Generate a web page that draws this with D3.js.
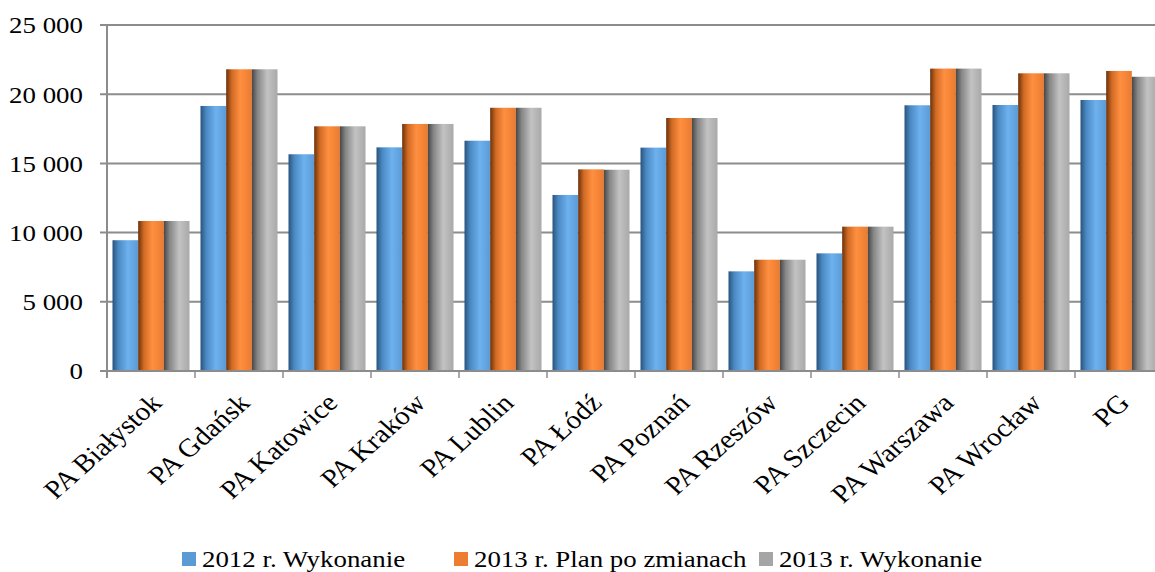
<!DOCTYPE html>
<html><head><meta charset="utf-8">
<script src="https://cdn.jsdelivr.net/npm/d3@7/dist/d3.min.js"></script>
<style>body{margin:0;background:#fff;overflow:hidden}svg{display:block}</style>
</head><body><svg id="c" width="1155" height="572"></svg>
<script>
const categories=["PA Białystok","PA Gdańsk","PA Katowice","PA Kraków","PA Lublin","PA Łódź","PA Poznań","PA Rzeszów","PA Szczecin","PA Warszawa","PA Wrocław","PG"];
const seriesNames=["2012 r. Wykonanie","2013 r. Plan po zmianach","2013 r. Wykonanie"];
const s2012=[9450,19150,15660,16160,16640,12720,16140,7200,8500,19200,19220,19580];
const s2013plan=[10840,21800,17680,17850,19020,14570,18280,8040,10430,21850,21510,21680];
const s2013wyk=[10840,21800,17680,17850,19020,14540,18280,8040,10430,21850,21510,21260];
const yTicks=[0,5000,10000,15000,20000,25000];
const series=[s2012,s2013plan,s2013wyk];

const FONT='"Liberation Serif","Times New Roman",serif';
const svg=d3.select("#c");
const pLeft=107, pTop=25, pBottom=371, step=88, sx=1.12;
const x=d3.scaleBand().domain(categories).range([pLeft,pLeft+step*categories.length]).paddingInner(0.125).paddingOuter(0.0625);
const xs=d3.scaleBand().domain(d3.range(3)).range([0,x.bandwidth()]);
const y=d3.scaleLinear().domain([0,25000]).range([pBottom,pTop]);

const defs=svg.append("defs");
const grads=[
 [["0%","#29537d"],["22%","#4a88c2"],["60%","#6db1ee"],["100%","#5b9bd6"]],
 [["0%","#6a310b"],["22%","#d06a24"],["55%","#ff8f40"],["100%","#ea7b2e"]],
 [["0%","#464646"],["22%","#858585"],["60%","#c2c2c2"],["100%","#a9a9a9"]]
];
grads.forEach((g,i)=>{
 const lg=defs.append("linearGradient").attr("id","g"+i).attr("x1","0").attr("x2","1").attr("y1","0").attr("y2","0");
 g.forEach(s=>lg.append("stop").attr("offset",s[0]).attr("stop-color",s[1]));
});
const legendColors=["#5b9bd5","#ed7d31","#a5a5a5"];

svg.append("g").selectAll("line").data(yTicks).join("line")
 .attr("x1",pLeft-7).attr("x2",1155).attr("y1",d=>y(d)).attr("y2",d=>y(d))
 .attr("stroke","#8c8c8c").attr("stroke-width",2);
svg.append("line").attr("x1",pLeft).attr("x2",pLeft).attr("y1",pTop).attr("y2",pBottom+7).attr("stroke","#8c8c8c").attr("stroke-width",2);
const xb=d3.range(categories.length+1).map(i=>pLeft+i*step);
svg.append("g").selectAll("line").data(xb).join("line")
 .attr("x1",d=>d).attr("x2",d=>d).attr("y1",pBottom).attr("y2",pBottom+7).attr("stroke","#8c8c8c").attr("stroke-width",1.5);

series.forEach((vals,si)=>{
 svg.append("g").selectAll("rect").data(vals).join("rect")
  .attr("x",(d,i)=>x(categories[i])+xs(si))
  .attr("width",xs.bandwidth())
  .attr("y",d=>y(d)).attr("height",d=>pBottom-y(d))
  .attr("fill","url(#g"+si+")");
});
svg.append("line").attr("x1",pLeft-7).attr("x2",1155).attr("y1",pBottom).attr("y2",pBottom).attr("stroke","#8c8c8c").attr("stroke-width",2);

svg.append("g").selectAll("text").data(yTicks).join("text")
 .attr("transform",d=>`translate(83,${y(d)}) scale(${sx},1)`)
 .attr("dy","0.35em").attr("text-anchor","end")
 .style("font-family",FONT).style("font-size","24px").attr("fill","#000")
 .text(d=>d3.format(",")(d).replace(/,/g," "));

svg.append("g").selectAll("text").data(categories).join("text")
 .attr("transform",d=>`translate(${x(d)+x.bandwidth()/2+5},${pBottom+27}) scale(${sx},1) rotate(-45)`)
 .attr("text-anchor","end").attr("dy","0.35em")
 .style("font-family",FONT).style("font-size","26px").attr("fill","#000").text(d=>d);

const lx=[182,454,759];
const lg=svg.append("g");
seriesNames.forEach((n,i)=>{
 lg.append("rect").attr("x",lx[i]).attr("y",552).attr("width",14).attr("height",14).attr("fill",legendColors[i]);
 lg.append("text").attr("transform",`translate(${lx[i]+20},567) scale(${sx},1)`)
  .style("font-family",FONT).style("font-size","24px").attr("fill","#000").text(n);
});
</script></body></html>
